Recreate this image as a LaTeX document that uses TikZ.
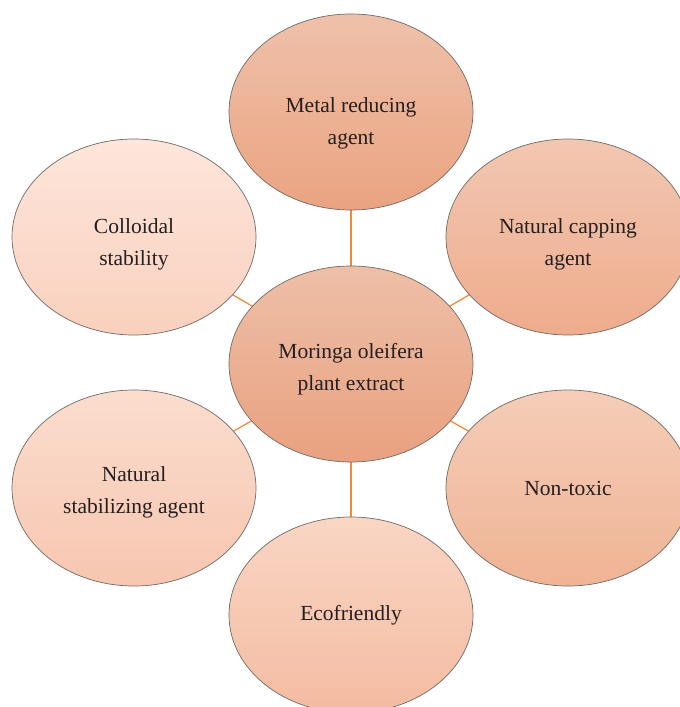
\documentclass[tikz,border=0pt]{standalone}
\usepackage{fontspec}
\setmainfont{Liberation Serif}
\usetikzlibrary{shapes.geometric}
\definecolor{mtop}{HTML}{EFC1AA}\definecolor{mbot}{HTML}{EAA381}
\definecolor{ctop}{HTML}{EEBFA7}\definecolor{cbot}{HTML}{E9A180}
\definecolor{ntop}{HTML}{F2C7B2}\definecolor{nbot}{HTML}{EEAC8C}
\definecolor{ttop}{HTML}{F5CDB8}\definecolor{tbot}{HTML}{F0B394}
\definecolor{etop}{HTML}{F9D6C4}\definecolor{ebot}{HTML}{F4BBA1}
\definecolor{stop}{HTML}{FBDDCE}\definecolor{sbot}{HTML}{F7C6B0}
\definecolor{ltop}{HTML}{FDE6DB}\definecolor{lbot}{HTML}{FAD0BE}
\definecolor{linkc}{HTML}{F08A3C}
\definecolor{edgec}{HTML}{6E6A68}
\definecolor{txt}{HTML}{231F20}
\begin{document}
\begin{tikzpicture}[x=1pt,y=-1pt,
  bubble/.style={ellipse, draw=edgec, line width=0.7pt, minimum width=244pt, minimum height=196pt,
    inner sep=0pt},
  lab/.style={align=center, text=txt, inner sep=0pt, font=\fontsize{21.5}{32}\selectfont},
  link/.style={draw=linkc, line width=1.3pt}]
\useasboundingbox (0,0) rectangle (680,707);
\clip (0,0) rectangle (680,707);
% centres of the bubbles; connectors drawn first so the bubbles cover them
\coordinate (pc) at (351,364);
\coordinate (pt) at (351,112);
\coordinate (pb) at (351,615);
\coordinate (ptl) at (134,237);
\coordinate (ptr) at (568,237);
\coordinate (pbl) at (134,488);
\coordinate (pbr) at (568,488);
\foreach \p in {pt,pb,ptl,ptr,pbl,pbr} \draw[link] (pc) -- (\p);
\node[bubble, top color=mtop, bottom color=mbot] (top) at (pt) {};
\node[bubble, top color=ltop, bottom color=lbot] (tl) at (ptl) {};
\node[bubble, top color=ntop, bottom color=nbot] (tr) at (ptr) {};
\node[bubble, top color=stop, bottom color=sbot] (bl) at (pbl) {};
\node[bubble, top color=ttop, bottom color=tbot] (br) at (pbr) {};
\node[bubble, top color=etop, bottom color=ebot] (bot) at (pb) {};
\node[bubble, top color=ctop, bottom color=cbot] (ctr) at (pc) {};
\node[lab] (ttop) at ([yshift=-11pt]top.center) {Metal reducing\\agent};
\node[lab] (ttl) at ([yshift=-7pt]tl.center) {Colloidal\\stability};
\node[lab] (ttr) at ([yshift=-7pt]tr.center) {Natural capping\\agent};
\node[lab] (tbl) at ([yshift=-4pt]bl.center) {Natural\\stabilizing agent};
\node[lab] (tbr) at (br.center) {Non-toxic};
\node[lab] (tbot) at (bot.center) {Ecofriendly};
\node[lab] (tctr) at ([yshift=-5pt]ctr.center) {Moringa oleifera\\plant extract};
\end{tikzpicture}
\end{document}
